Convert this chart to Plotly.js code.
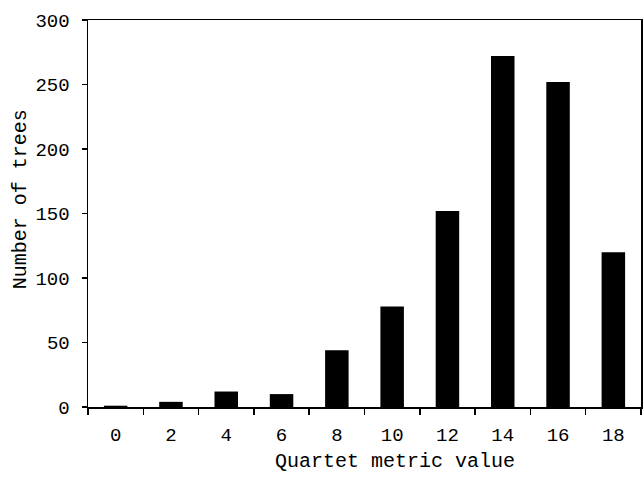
<!DOCTYPE html>
<html>
<head>
<meta charset="utf-8">
<script src="https://cdn.plot.ly/plotly-3.0.1.min.js"></script>
<style>html,body{margin:0;padding:0;background:#fff;}#chart{width:643px;height:482px;}</style>
</head>
<body>
<div id="chart"></div>
<script>
const categories = ["0","2","4","6","8","10","12","14","16","18"];
const treeCounts = [1, 4, 12, 10, 44, 78, 152, 272, 252, 120];
const yTickValues = [0, 50, 100, 150, 200, 250, 300];
const xTitle = "Quartet metric value";
const yTitle = "Number of trees";

const font = {family: "'Liberation Mono', 'Courier New', monospace", size: 19, color: "#000"};
const titleFont = {family: "'Liberation Mono', 'Courier New', monospace", size: 20, color: "#000"};

const data = [{
  type: "bar",
  x: categories,
  y: treeCounts,
  marker: {color: "#000", line: {width: 0}},
  hoverinfo: "x+y"
}];

const layout = {
  width: 643, height: 482,
  margin: {l: 88, r: 2, t: 20, b: 75},
  paper_bgcolor: "#fff", plot_bgcolor: "#fff",
  font: font,
  showlegend: false,
  bargap: 0.575,
  xaxis: {
    type: "category",
    tickson: "boundaries",
    ticks: "outside", ticklen: 6, tickwidth: 1.5, tickcolor: "#000",
    showline: true, linecolor: "#000", linewidth: 1.5, mirror: true,
    showgrid: false, zeroline: false,
    tickfont: font,
    ticklabelstandoff: 10
  },
  yaxis: {
    range: [0, 300],
    tickvals: yTickValues,
    ticks: "outside", ticklen: 5, tickwidth: 1.5, tickcolor: "#000",
    showline: true, linecolor: "#000", linewidth: 1.5, mirror: true,
    showgrid: false, zeroline: false,
    tickfont: font,
    ticklabelstandoff: 8
  },
  annotations: [
    {text: xTitle, xref: "paper", yref: "paper", x: 0.555, y: -0.142,
     xanchor: "center", yanchor: "middle", showarrow: false, font: titleFont},
    {text: yTitle, xref: "paper", yref: "paper", x: -0.123, y: 0.537,
     xanchor: "center", yanchor: "middle", textangle: -90, showarrow: false, font: titleFont}
  ]
};

Plotly.newPlot("chart", data, layout, {displayModeBar: false, staticPlot: true});
</script>
</body>
</html>
